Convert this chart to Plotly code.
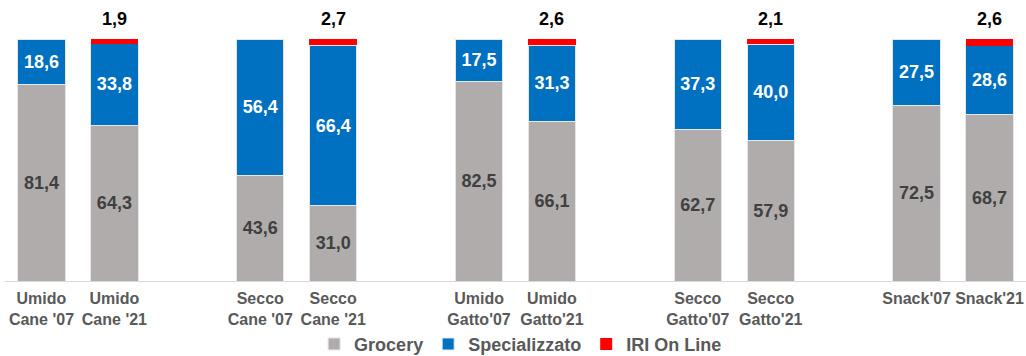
import plotly.graph_objects as go

# Channel share (%) per segment, 2007 vs 2021
categories = ["Umido<br>Cane '07", "Umido<br>Cane '21",
              "Secco<br>Cane '07", "Secco<br>Cane '21",
              "Umido<br>Gatto'07", "Umido<br>Gatto'21",
              "Secco<br>Gatto'07", "Secco<br>Gatto'21",
              "Snack'07", "Snack'21"]
grocery = [81.4, 64.3, 43.6, 31.0, 82.5, 66.1, 62.7, 57.9, 72.5, 68.7]
specializzato = [18.6, 33.8, 56.4, 66.4, 17.5, 31.3, 37.3, 40.0, 27.5, 28.6]
iri_online = [0.0, 1.9, 0.0, 2.7, 0.0, 2.6, 0.0, 2.1, 0.0, 2.6]

# Pairs of bars with a gap between each segment group
positions = [0, 1, 3, 4, 6, 7, 9, 10, 12, 13]

FONT = "Liberation Sans, Arial, sans-serif"
bar_line = dict(color="#E6E6E6", width=1)


def fmt(v):
    return f"{v:.1f}".replace(".", ",")


fig = go.Figure()
fig.add_trace(go.Bar(
    x=positions, y=grocery, name="Grocery",
    marker=dict(color="#AFACAB", line=bar_line),
    text=[fmt(v) for v in grocery], textposition="inside",
    insidetextanchor="middle",
    textfont=dict(family=FONT, size=18, color="#404040", weight="bold"),
    width=0.65,
))
fig.add_trace(go.Bar(
    x=positions, y=specializzato, name="Specializzato",
    marker=dict(color="#0070C0", line=bar_line),
    text=[fmt(v) for v in specializzato], textposition="inside",
    insidetextanchor="middle",
    textfont=dict(family=FONT, size=18, color="white", weight="bold"),
    width=0.65,
))
fig.add_trace(go.Bar(
    x=positions, y=iri_online, name="IRI On Line",
    marker=dict(color="#FF0000", line=dict(width=0)),
    width=0.65, cliponaxis=False,
))

# IRI On Line values written above each stack (stacks are shares of 100)
for xp, g, s, v in zip(positions, grocery, specializzato, iri_online):
    if v > 0:
        fig.add_annotation(
            x=xp, y=min(g + s + v, 100), text=fmt(v), showarrow=False,
            yanchor="bottom", yshift=8,
            font=dict(family=FONT, size=18, color="black", weight="bold"),
        )

fig.update_layout(
    barmode="stack",
    width=1026, height=356,
    margin=dict(l=5, r=0, t=39, b=75, autoexpand=False),
    paper_bgcolor="white", plot_bgcolor="white",
    showlegend=True,
    legend=dict(
        orientation="h", x=0.505, xanchor="center", y=-0.185, yanchor="top",
        traceorder="normal",
        font=dict(family=FONT, size=18, color="#595959", weight="bold"),
        itemwidth=30,
    ),
    xaxis=dict(
        range=[-0.5, 13.5], tickmode="array", tickvals=positions,
        ticktext=categories, showgrid=False, zeroline=False,
        showline=True, linecolor="#D9D9D9", linewidth=1,
        tickfont=dict(family=FONT, size=16, color="#595959", weight="bold"),
        ticks="", automargin=False, ticklabelstandoff=3,
    ),
    yaxis=dict(range=[0, 100], visible=False, showgrid=False,
               automargin=False),
)

fig.write_html("out.html")
